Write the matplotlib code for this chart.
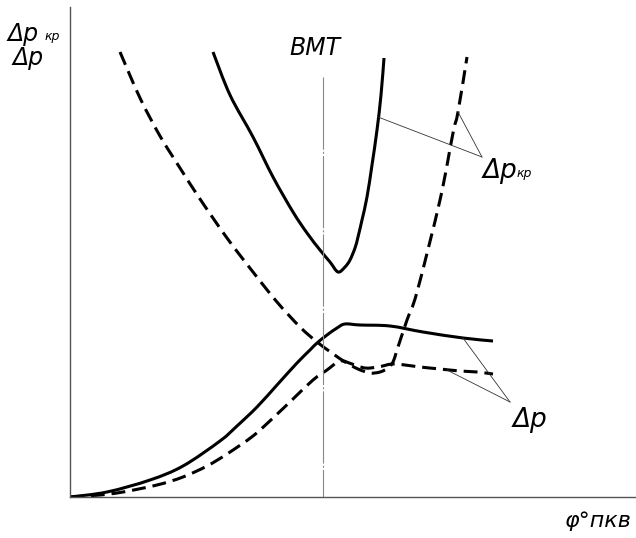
import matplotlib
matplotlib.use("Agg")
import numpy as np
import matplotlib.pyplot as plt
from matplotlib.path import Path
from matplotlib.patches import PathPatch

# ================= data (arbitrary units) =================
# crank angle axis, ВМТ position
bmt_x = 253
bmt_top = 420

# critical pressure drop, solid curve
kr_solid_x = [143, 160, 183, 203, 223, 237, 250, 260, 268, 275, 280, 285, 288, 292, 297, 302, 307, 311, 314]
kr_solid_y = [445, 402, 360, 320, 285, 264, 247, 235, 225, 230, 237, 249, 260, 277, 300, 332, 367, 402, 439]

# critical pressure drop, dashed curve
kr_dash_x = [50, 70, 90, 110, 130, 157, 183, 207, 230, 247, 262, 275, 288, 300, 310, 318, 323, 327, 337, 347, 370, 383, 388, 397]
kr_dash_y = [445, 399, 361, 329, 298, 259, 225, 195, 170, 155, 144, 135, 128, 124, 125, 129, 135, 147, 177, 205, 297, 364, 385, 440]

# pressure drop, solid curve
dp_solid_x = [0, 37, 80, 113, 150, 167, 187, 207, 227, 240, 247, 257, 267, 275, 290, 320, 353, 393, 423]
dp_solid_y = [0, 5, 17, 31, 56, 71, 90, 112, 134, 147, 154, 162, 169, 173, 172, 171, 165, 159, 156]

# pressure drop, dashed curve
dp_dash_x = [0, 30, 53, 87, 113, 137, 157, 183, 203, 223, 243, 257, 270, 282, 295, 308, 322, 335, 350, 370, 390, 407, 423]
dp_dash_y = [0, 2, 5, 12, 20, 31, 43, 61, 79, 98, 117, 127, 136, 133, 129, 130, 133, 132, 130, 128, 126, 125, 123]

# leader lines: (start on curve) -> label point
kr_leaders = [((308, 380), (412, 340)), ((388, 385), (412, 340))]
dp_leaders = [((393, 159), (440, 95)), ((377, 127), (440, 95))]

FONT = ['Liberation Sans Narrow', 'DejaVu Sans']
plt.rcParams['lines.scale_dashes'] = False


def smooth_path(xs, ys):
    # bezier path through the read points (catmull-rom tangents)
    p = np.column_stack([xs, ys]).astype(float)
    verts = [p[0]]
    codes = [Path.MOVETO]
    n = len(p)
    for i in range(n - 1):
        p0 = p[i - 1] if i > 0 else p[i]
        p1, p2 = p[i], p[i + 1]
        p3 = p[i + 2] if i + 2 < n else p[i + 1]
        verts += [p1 + (p2 - p0) / 6.0, p2 - (p3 - p1) / 6.0, p2]
        codes += [Path.CURVE4] * 3
    return Path(verts, codes)


def draw_curve(ax, xs, ys, dashed=False):
    ls = (0, (10, 5)) if dashed else '-'
    patch = PathPatch(smooth_path(xs, ys), fill=False, edgecolor='black', lw=2.2,
                      linestyle=ls, capstyle='butt', joinstyle='round')
    ax.add_patch(patch)


fig = plt.figure(figsize=(6.36, 5.38), dpi=100)
ax = fig.add_axes([70 / 636, 41 / 538, 566 / 636, 490 / 538])
ax.set_xlim(0, 566)
ax.set_ylim(0, 490)
ax.spines['top'].set_visible(False)
ax.spines['right'].set_visible(False)
for s in ['left', 'bottom']:
    ax.spines[s].set_color('#555555')
    ax.spines[s].set_linewidth(1.0)
ax.set_xticks([])
ax.set_yticks([])

# ВМТ centre line
ax.plot([bmt_x, bmt_x], [bmt_top, 0], color='#888888', lw=0.8, linestyle=(0, (52, 1.5, 1.5, 1.5)))

# curves
draw_curve(ax, kr_solid_x, kr_solid_y)
draw_curve(ax, kr_dash_x, kr_dash_y, dashed=True)
draw_curve(ax, dp_solid_x, dp_solid_y)
draw_curve(ax, dp_dash_x, dp_dash_y, dashed=True)

for (x0, y0), (x1, y1) in kr_leaders + dp_leaders:
    ax.plot([x0, x1], [y0, y1], color='#333333', lw=0.6, clip_on=False)

# ================= labels =================
txt = dict(family=FONT, style='italic', color='black', va='baseline')
ax.text(-63, 456, 'Δp', fontsize=17, **txt)
ax.text(-25, 457, 'кр', fontsize=9, **txt)
ax.text(-58, 432, 'Δp', fontsize=17, **txt)
ax.text(245, 442, 'ВМТ', fontsize=17, ha='center', **txt)
ax.text(562, -30, 'φ°пкв', fontsize=16, ha='right', **txt)
ax.text(413, 319, 'Δp', fontsize=19, **txt)
ax.text(447, 320, 'кр', fontsize=9, **txt)
ax.text(443, 70, 'Δp', fontsize=19, **txt)

fig.savefig('out.png', dpi=100)
